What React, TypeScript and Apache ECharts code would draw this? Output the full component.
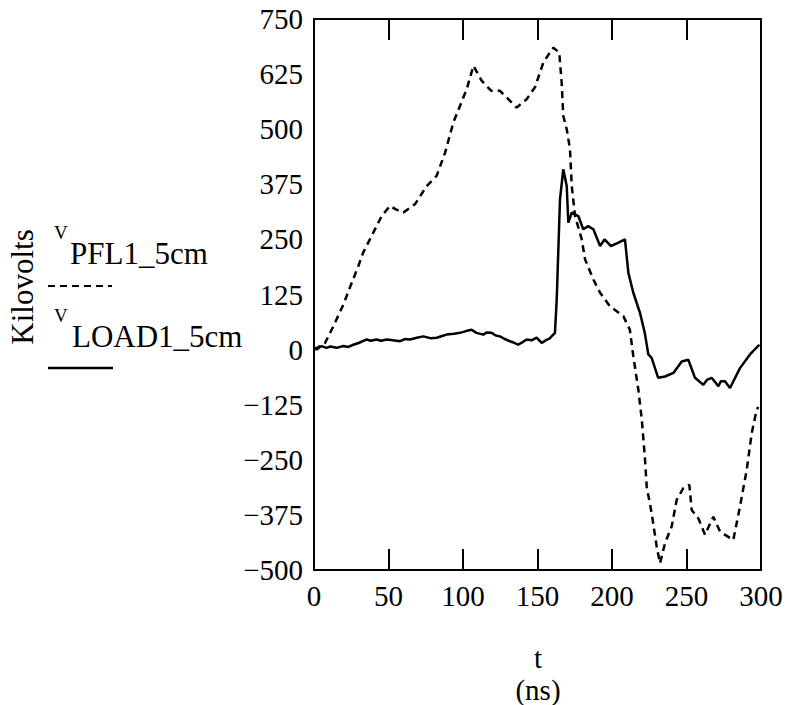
import React, { useEffect, useRef } from "react";
import * as echarts from "echarts";

const xTickValues = [0, 50, 100, 150, 200, 250, 300];
const yTickValues = [-500, -375, -250, -125, 0, 125, 250, 375, 500, 625, 750];

const pflT = [0, 7.4, 13, 19.7, 24, 29.7, 33, 38.7, 45.4, 51, 55, 60, 67.8, 75.6, 82.3, 88, 93.5, 102.5, 107, 112.5, 119, 124.8, 129.3, 136, 142.7, 148.3, 154, 160.6, 164.6, 166.2, 167.3, 169.6, 171.8, 173, 175.2, 179.7, 181.9, 187.5, 192, 198.7, 207.6, 212, 214.3, 217.7, 220, 222, 223.3, 226.6, 230, 232.2, 235.6, 240, 243.4, 247.9, 251.9, 253.5, 258, 262.4, 268, 272.5, 281.4, 285.9, 290.4, 293.8, 296.6, 298];
const pflV = [0, 15, 53, 102, 140, 189, 220, 258, 303, 326, 318, 311, 330, 371, 394, 447, 515, 591, 644, 610, 587, 587, 572, 549, 568, 595, 652, 685, 674, 606, 530, 500, 455, 371, 303, 250, 205, 159, 129, 98, 76, 45, -15, -91, -159, -242, -311, -371, -447, -485, -439, -402, -341, -314, -307, -364, -383, -420, -379, -413, -432, -356, -273, -189, -144, -130];

const loadT = [0, 1.8, 5, 8.4, 11, 15.2, 19.7, 23, 26.4, 30, 35.4, 38, 42, 45, 48.8, 53, 57.7, 61, 64.4, 69, 73.4, 78, 82.3, 86, 89, 94, 98, 102, 105.8, 109, 113.6, 116, 119.2, 122, 124.8, 128, 131.5, 134, 137, 140, 142.7, 146, 149.4, 152.8, 156, 158, 161.7, 162.9, 165.1, 167.3, 169.6, 170.7, 173, 177.4, 180.7, 184, 187.5, 192, 195, 199.3, 204, 208.7, 211, 214.3, 218.8, 222, 224.4, 226.6, 231, 235.6, 241.2, 246.8, 251.2, 255.7, 261.3, 264, 266.9, 271.4, 273, 275.8, 279.2, 285.9, 292.6, 298.9];
const loadV = [5, 0, 8, 4, 7, 4, 8, 6, 11, 15, 23, 20, 23, 20, 23, 21, 19, 24, 23, 27, 30, 26, 27, 31, 34, 36, 38, 42, 45, 38, 34, 39, 38, 32, 30, 24, 19, 16, 11, 17, 23, 21, 27, 15, 22, 25, 38, 114, 341, 409, 371, 288, 311, 303, 273, 280, 273, 235, 250, 235, 242, 250, 174, 129, 83, 38, -11, -19, -64, -61, -53, -27, -23, -64, -80, -68, -64, -83, -72, -72, -87, -42, -11, 11];

const FONT = "Liberation Serif";

export default function App() {
  const ref = useRef<HTMLDivElement>(null);
  useEffect(() => {
    if (!ref.current) return;
    const chart = echarts.init(ref.current, null, { renderer: "svg" });
    const pflData = pflT.map((t, i) => [t, pflV[i]]);
    const loadData = loadT.map((t, i) => [t, loadV[i]]);
    const tickStyle = { show: true, inside: true, length: 21, lineStyle: { color: "#000", width: 2 } };
    const txt = (text: string, x: number, y: number, size: number, align: string, extra: any = {}) => ({
      type: "text", x, y, ...extra,
      style: { text, fontFamily: FONT, fontSize: size, fill: "#000", textAlign: align, textVerticalAlign: "middle" },
    });
    chart.setOption({
      animation: false,
      grid: { left: 314, top: 19, width: 447, height: 551, show: true, borderColor: "#000", borderWidth: 2 },
      xAxis: [
        {
          type: "value", min: xTickValues[0], max: xTickValues[xTickValues.length - 1], interval: 50,
          position: "bottom",
          axisLine: { show: true, onZero: false, lineStyle: { color: "#000", width: 2 } },
          axisTick: tickStyle,
          splitLine: { show: false },
          axisLabel: { color: "#000", fontFamily: FONT, fontSize: 29, margin: 11 },
        },
        {
          type: "value", min: xTickValues[0], max: xTickValues[xTickValues.length - 1], interval: 50,
          position: "top",
          axisLine: { show: true, onZero: false, lineStyle: { color: "#000", width: 2 } },
          axisTick: tickStyle,
          splitLine: { show: false },
          axisLabel: { show: false },
        },
      ],
      yAxis: {
        type: "value", min: yTickValues[0], max: yTickValues[yTickValues.length - 1], interval: 125,
        axisLine: { show: true, onZero: false, lineStyle: { color: "#000", width: 2 } },
        axisTick: { show: false },
        splitLine: { show: false },
        axisLabel: {
          color: "#000", fontFamily: FONT, fontSize: 29, margin: 11,
          formatter: (v: number) => (v < 0 ? "\u2212" + Math.abs(v) : String(v)),
        },
      },
      series: [
        {
          type: "line", name: "VPFL1_5cm", data: pflData, showSymbol: false, symbol: "none",
          lineStyle: { color: "#000", width: 2.5, type: [7, 5] },
        },
        {
          type: "line", name: "VLOAD1_5cm", data: loadData, showSymbol: false, symbol: "none",
          lineStyle: { color: "#000", width: 2.5, type: "solid" },
        },
      ],
      graphic: [
        txt("Kilovolts", 22, 287, 31, "center", { rotation: Math.PI / 2 }),
        txt("V", 54, 232, 19, "left"),
        txt("PFL1_5cm", 70, 253, 31, "left"),
        { type: "line", shape: { x1: 48, y1: 286, x2: 112, y2: 286 }, style: { stroke: "#000", lineWidth: 2, lineDash: [7, 5] } },
        txt("V", 54, 315, 19, "left"),
        txt("LOAD1_5cm", 72, 336, 31, "left"),
        { type: "line", shape: { x1: 48, y1: 368, x2: 113, y2: 368 }, style: { stroke: "#000", lineWidth: 2.5 } },
        txt("t", 538, 658, 29, "center"),
        txt("(ns)", 538, 690, 29, "center"),
      ],
    });
    return () => chart.dispose();
  }, []);
  return (
    <div style={{ margin: "-8px 0 0 -8px", width: 792, height: 705 }}>
      <style>{`#serif-chart svg text { font-family: "Liberation Serif" !important; }`}</style>
      <div id="serif-chart" ref={ref} style={{ width: 792, height: 705 }} />
    </div>
  );
}
